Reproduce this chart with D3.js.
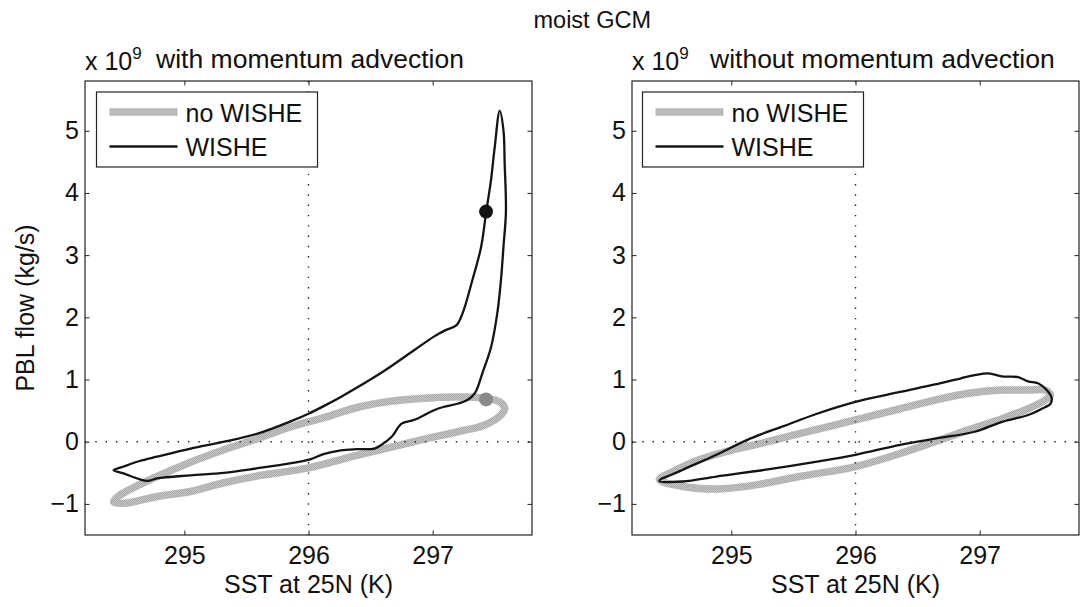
<!DOCTYPE html>
<html lang="en">
<head>
<meta charset="UTF-8">
<title>moist GCM</title>
<script src="https://d3js.org/d3.v7.min.js"></script>
<style>
  body { margin: 0; background: #fff; }
  text { font-family: "Liberation Sans", Arial, Helvetica, sans-serif; fill: #111; }
</style>
</head>
<body>
<div id="chart"></div>
<script>
// axis ticks
const sstTicks = [295, 296, 297];
const flowTicks = [-1, 0, 1, 2, 3, 4, 5];

// left panel: with momentum advection (PBL flow in 1e9 kg/s)
const leftNoWisheSst  = [294.43, 294.52, 294.78, 295.05, 295.32, 295.59, 296.00, 296.39, 296.66, 296.93, 297.20, 297.42, 297.55, 297.58, 297.54, 297.42, 297.20, 296.93, 296.66, 296.39, 296.13, 295.86, 295.59, 295.32, 295.05, 294.78, 294.57, 294.46];
const leftNoWisheFlow = [-0.97, -0.99, -0.88, -0.80, -0.66, -0.55, -0.42, -0.22, -0.09, 0.04, 0.16, 0.27, 0.43, 0.54, 0.64, 0.70, 0.72, 0.70, 0.65, 0.55, 0.39, 0.24, 0.05, -0.13, -0.33, -0.56, -0.76, -0.89];
const leftWisheSst  = [294.43, 294.51, 294.64, 294.78, 295.05, 295.32, 295.59, 295.86, 296.00, 296.13, 296.26, 296.58, 296.85, 297.01, 297.10, 297.19, 297.24, 297.32, 297.39, 297.43, 297.47, 297.50, 297.54, 297.57, 297.58, 297.59, 297.57, 297.55, 297.52, 297.47, 297.40, 297.34, 297.28, 297.20, 297.04, 296.85, 296.75, 296.67, 296.58, 296.53, 296.39, 296.26, 296.12, 296.02, 295.85, 295.58, 295.32, 295.05, 294.78, 294.70, 294.51];
const leftWisheFlow = [-0.46, -0.40, -0.31, -0.24, -0.11, 0.00, 0.13, 0.33, 0.45, 0.58, 0.72, 1.10, 1.47, 1.69, 1.79, 1.87, 2.06, 2.60, 3.13, 3.68, 4.21, 4.74, 5.32, 5.01, 4.47, 3.70, 3.13, 2.60, 2.06, 1.52, 1.10, 0.78, 0.67, 0.61, 0.53, 0.35, 0.29, 0.08, -0.06, -0.11, -0.12, -0.14, -0.20, -0.28, -0.35, -0.43, -0.50, -0.54, -0.59, -0.63, -0.51];
// marked points (SST, flow)
const leftNoWisheDot = [297.43, 0.68];
const leftWisheDot = [297.43, 3.70];

// right panel: without momentum advection
const rightNoWisheSst  = [294.42, 294.61, 294.88, 295.15, 295.55, 296.00, 296.36, 296.64, 296.91, 297.18, 297.39, 297.53, 297.57, 297.53, 297.39, 297.18, 296.91, 296.64, 296.36, 296.00, 295.55, 295.23, 295.01, 294.74, 294.53];
const rightNoWisheFlow = [-0.61, -0.72, -0.76, -0.71, -0.56, -0.40, -0.19, 0.00, 0.19, 0.37, 0.53, 0.67, 0.75, 0.83, 0.83, 0.83, 0.78, 0.67, 0.53, 0.35, 0.13, -0.03, -0.13, -0.29, -0.48];
const rightWisheSst  = [294.42, 294.61, 294.88, 295.15, 295.42, 295.69, 296.00, 296.36, 296.64, 296.85, 296.96, 297.07, 297.18, 297.31, 297.39, 297.47, 297.54, 297.58, 297.57, 297.50, 297.39, 297.18, 296.96, 296.64, 296.36, 296.00, 295.69, 295.28, 294.88, 294.61];
const rightWisheFlow = [-0.63, -0.45, -0.21, 0.05, 0.25, 0.45, 0.64, 0.80, 0.92, 1.02, 1.07, 1.10, 1.05, 1.04, 0.97, 0.94, 0.83, 0.70, 0.61, 0.53, 0.43, 0.32, 0.16, 0.05, -0.05, -0.21, -0.32, -0.45, -0.56, -0.64];

const legendLabels = ["no WISHE", "WISHE"];

const W = 1082, H = 607;
const FONT = 25;
const blackCol = "#141414";

const svg = d3.select("#chart").append("svg")
    .attr("width", W)
    .attr("height", H);

// dithered gray like the printed figure
const defs = svg.append("defs");
const pat = defs.append("pattern")
    .attr("id", "dither")
    .attr("patternUnits", "userSpaceOnUse")
    .attr("width", 2).attr("height", 2);
pat.append("rect").attr("width", 2).attr("height", 2).attr("fill", "#c6c6c6");
pat.append("rect").attr("width", 1).attr("height", 1).attr("fill", "#a9a9a9");
pat.append("rect").attr("x", 1).attr("y", 1).attr("width", 1).attr("height", 1).attr("fill", "#a9a9a9");

// suptitle
svg.append("text")
    .attr("x", 651).attr("y", 28)
    .attr("text-anchor", "end")
    .attr("font-size", 23.5)
    .text("moist GCM");

const panels = [
    { x0: 85, title: "with momentum advection", titleX: 310, anchor: "middle",
      gray: [leftNoWisheSst, leftNoWisheFlow], black: [leftWisheSst, leftWisheFlow],
      dots: [[leftNoWisheDot, "#8a8a8a"], [leftWisheDot, blackCol]], legDx: 11.5 },
    { x0: 632, title: "without momentum advection", titleX: 710, anchor: "start",
      gray: [rightNoWisheSst, rightNoWisheFlow], black: [rightWisheSst, rightWisheFlow],
      dots: [], legDx: 10.5 }
];

const pw = 447, y0 = 81, ph = 454;

panels.forEach(p => {
    const x = d3.scaleLinear().domain([294.2, 297.8]).range([p.x0, p.x0 + pw]);
    const y = d3.scaleLinear().domain([-1.5, 5.8]).range([y0 + ph, y0]);
    const g = svg.append("g");

    const line = d3.line()
        .x(d => x(d[0]))
        .y(d => y(d[1]))
        .curve(d3.curveCatmullRomClosed.alpha(0.5));

    const grayPts = d3.zip(p.gray[0], p.gray[1]);
    const blackPts = d3.zip(p.black[0], p.black[1]);

    g.append("path")
        .attr("d", line(grayPts))
        .attr("fill", "none")
        .attr("stroke", "url(#dither)")
        .attr("stroke-width", 7.5)
        .attr("stroke-linejoin", "round");

    g.append("path")
        .attr("d", line(blackPts))
        .attr("fill", "none")
        .attr("stroke", blackCol)
        .attr("stroke-width", 2.3)
        .attr("stroke-linejoin", "round");

    g.selectAll(".dot")
        .data(p.dots)
        .enter()
        .append("circle")
        .attr("cx", d => x(d[0][0]))
        .attr("cy", d => y(d[0][1]))
        .attr("r", 7)
        .attr("fill", d => d[1]);

    // dotted reference lines at 296 K and zero flow
    g.append("line")
        .attr("x1", x(296)).attr("x2", x(296))
        .attr("y1", y0).attr("y2", y0 + ph)
        .attr("stroke", "#222").attr("stroke-width", 1.4)
        .attr("stroke-dasharray", "1.4,8.9");
    g.append("line")
        .attr("x1", p.x0).attr("x2", p.x0 + pw)
        .attr("y1", y(0)).attr("y2", y(0))
        .attr("stroke", "#222").attr("stroke-width", 1.4)
        .attr("stroke-dasharray", "1.4,8.9");

    // axes, ticks pointing inward on all four sides
    const tk = 4.5;
    const ax = [
        [d3.axisBottom(x).tickValues(sstTicks).tickFormat(d3.format("d")), `translate(0,${y0 + ph})`, 11],
        [d3.axisTop(x).tickValues(sstTicks).tickFormat(""), `translate(0,${y0})`, 0],
        [d3.axisLeft(y).tickValues(flowTicks).tickFormat(d => d < 0 ? "\u2212" + Math.abs(d) : d), `translate(${p.x0},0)`, 6],
        [d3.axisRight(y).tickValues(flowTicks).tickFormat(""), `translate(${p.x0 + pw},0)`, 0]
    ];
    ax.forEach(([a, tr, pad]) => {
        const ag = g.append("g")
            .attr("transform", tr)
            .call(a.tickSize(-tk).tickSizeOuter(0).tickPadding(pad));
        ag.select(".domain").remove();
        ag.selectAll("line").attr("stroke", "#222");
        ag.selectAll("text")
            .attr("font-size", FONT)
            .attr("font-family", "'Liberation Sans', Arial, Helvetica, sans-serif")
            .attr("fill", "#111");
    });

    g.append("rect")
        .attr("x", p.x0).attr("y", y0)
        .attr("width", pw).attr("height", ph)
        .attr("fill", "none")
        .attr("stroke", "#222").attr("stroke-width", 1.2);

    // legend
    const lx = p.x0 + p.legDx, ly = y0 + 11;
    const lg = g.append("g").attr("transform", `translate(${lx},${ly})`);
    lg.append("rect")
        .attr("width", 221).attr("height", 75)
        .attr("fill", "#fff")
        .attr("stroke", "#222").attr("stroke-width", 1.2);
    legendLabels.forEach((lab, i) => {
        const yy = 20 + i * 34.5;
        lg.append("line")
            .attr("x1", 13).attr("x2", 81)
            .attr("y1", yy).attr("y2", yy)
            .attr("stroke", i === 0 ? "url(#dither)" : blackCol)
            .attr("stroke-width", i === 0 ? 7.5 : 2.3);
        lg.append("text")
            .attr("x", 89).attr("y", yy + 9.5)
            .attr("font-size", FONT)
            .text(lab);
    });

    // exponent and title
    const ex = svg.append("text")
        .attr("x", p.x0).attr("y", 70)
        .attr("font-size", FONT);
    ex.append("tspan").text("x 10");
    ex.append("tspan").attr("dy", -11).attr("font-size", 17).text("9");

    svg.append("text")
        .attr("x", p.titleX).attr("y", 68)
        .attr("text-anchor", p.anchor)
        .attr("font-size", 26.5)
        .text(p.title);

    svg.append("text")
        .attr("x", p.x0 + pw / 2).attr("y", 593)
        .attr("text-anchor", "middle")
        .attr("font-size", FONT)
        .text("SST at 25N (K)");
});

svg.append("text")
    .attr("transform", "translate(34,308) rotate(-90)")
    .attr("text-anchor", "middle")
    .attr("font-size", FONT)
    .text("PBL flow (kg/s)");
</script>
</body>
</html>
